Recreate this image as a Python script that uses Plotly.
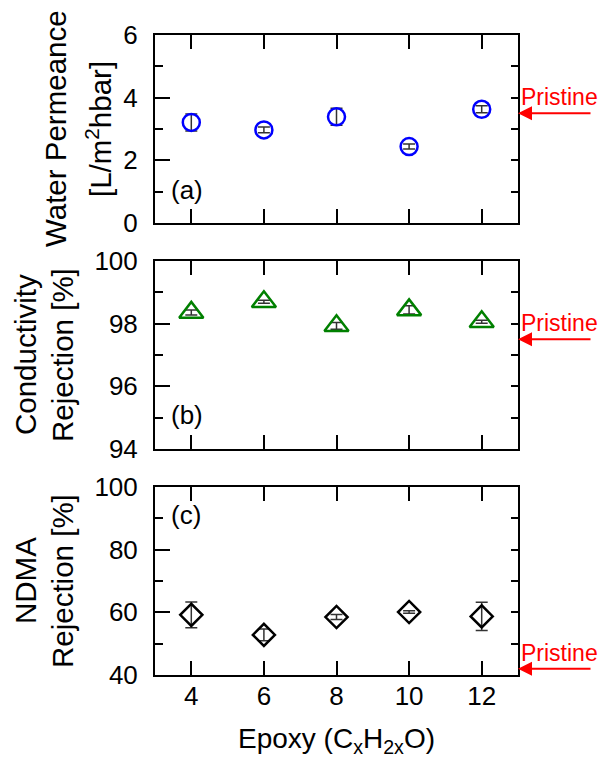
import plotly.graph_objects as go

# ---------------- data ----------------
epoxy_x = [4, 6, 8, 10, 12]
x_tick_labels = ["4", "6", "8", "10", "12"]

permeance = [3.21, 2.97, 3.39, 2.44, 3.63]
permeance_err = [0.27, 0.09, 0.27, 0.08, 0.11]

conductivity = [98.36, 98.70, 97.93, 98.44, 98.06]
conductivity_err = [0.08, 0.05, 0.11, 0.13, 0.05]

ndma = [59.2, 52.8, 58.5, 60.1, 58.7]
ndma_err = [4.1, 1.9, 0.8, 0.4, 4.5]

pristine_values = [3.5, 97.5, 42.0]
panel_letters = ["(a)", "(b)", "(c)"]

# ---------------- styling ----------------
FONT = "Liberation Sans, Arial, sans-serif"
TICK_SIZE = 26
TITLE_SIZE = 29.5
ERR_COLOR = "#333333"

fig = go.Figure()

def err(vals):
    return dict(type="data", array=vals, visible=True, color=ERR_COLOR,
                thickness=1.5, width=6)

fig.add_trace(go.Scatter(x=epoxy_x, y=permeance, mode="markers",
                         xaxis="x3", yaxis="y3", error_y=err(permeance_err),
                         marker=dict(symbol="circle-open", size=17, color="#0000FF",
                                     line=dict(width=2.5, color="#0000FF")),
                         showlegend=False))
fig.add_trace(go.Scatter(x=epoxy_x, y=conductivity, mode="markers",
                         xaxis="x2", yaxis="y2", error_y=err(conductivity_err),
                         marker=dict(symbol="triangle-up-open", size=21, color="#008000",
                                     line=dict(width=2.5, color="#008000")),
                         showlegend=False))
fig.add_trace(go.Scatter(x=epoxy_x, y=ndma, mode="markers",
                         xaxis="x", yaxis="y", error_y=err(ndma_err),
                         marker=dict(symbol="diamond-open", size=17, color="#000000",
                                     line=dict(width=2.5, color="#000000")),
                         showlegend=False))
# dummy traces for right-side tick overlays
for ya, xa in (("y4", "x"), ("y5", "x2"), ("y6", "x3")):
    fig.add_trace(go.Scatter(x=[None], y=[None], xaxis=xa, yaxis=ya,
                             showlegend=False, hoverinfo="skip"))

dom_c = [0.0, 0.29375]
dom_b = [0.353125, 0.646875]
dom_a = [0.70625, 1.0]

def xaxis(anchor, labels):
    return dict(anchor=anchor, domain=[0, 1], range=[3, 13],
                tickmode="array", tickvals=epoxy_x, ticktext=x_tick_labels,
                showticklabels=labels, ticks="inside", ticklen=14, tickwidth=2,
                tickcolor="black", showline=True, linewidth=2, linecolor="black",
                mirror="ticks", showgrid=False, zeroline=False, automargin=False,
                tickfont=dict(family=FONT, size=TICK_SIZE, color="black"),
                ticklabelposition="outside", ticklabelstandoff=-3)

def yaxis(dom, rng, dtick, minor):
    return dict(domain=dom, range=rng, dtick=dtick, tick0=rng[0],
                ticks="inside", ticklen=15, tickwidth=2, tickcolor="black",
                minor=dict(ticks="inside", ticklen=8, tickwidth=2, tickcolor="black",
                           dtick=minor, tick0=rng[0], showgrid=False),
                showline=True, linewidth=2, linecolor="black", mirror=True,
                showgrid=False, zeroline=False, automargin=False,
                tickfont=dict(family=FONT, size=TICK_SIZE, color="black"),
                ticklabelposition="outside", ticklabelstandoff=10)

def yright(over, anchor, dom, rng, minor):
    return dict(overlaying=over, anchor=anchor, side="right", domain=dom,
                range=rng, dtick=minor, tick0=rng[0], ticks="inside", ticklen=7,
                tickwidth=2, tickcolor="black", showticklabels=False,
                showline=False, showgrid=False, zeroline=False, automargin=False)

fig.update_layout(
    width=603, height=758,
    margin=dict(l=155, r=85, t=35, b=83),
    paper_bgcolor="white", plot_bgcolor="white",
    font=dict(family=FONT, color="black"),
    xaxis=xaxis("y", True),
    xaxis2=xaxis("y2", False),
    xaxis3=xaxis("y3", False),
    yaxis=yaxis(dom_c, [40, 100], 20, 10),
    yaxis2=yaxis(dom_b, [94, 100], 2, 1),
    yaxis3=yaxis(dom_a, [0, 6], 2, 1),
    yaxis4=yright("y", "x", dom_c, [40, 100], 10),
    yaxis5=yright("y2", "x2", dom_b, [94, 100], 1),
    yaxis6=yright("y3", "x3", dom_a, [0, 6], 1),
)
fig.layout.xaxis.title = dict(text="Epoxy (C<sub>x</sub>H<sub>2x</sub>O)",
                              font=dict(family=FONT, size=28), standoff=18)

ann = []
# y-axis titles (two lines each)
titles = [
    ("Water Permeance", "[L/m<sup>2</sup>hbar]", 55, 98, "y3 domain"),
    ("Conductivity", "Rejection [%]", 25, 62, "y2 domain"),
    ("NDMA", "Rejection [%]", 25, 62, "y domain"),
]
for l1, l2, px1, px2, yref in titles:
    for txt, px in ((l1, px1), (l2, px2)):
        ann.append(dict(text=txt, textangle=-90, xref="paper", yref=yref,
                        x=(px - 155) / 363, y=0.5, xanchor="center", yanchor="middle",
                        showarrow=False, font=dict(family=FONT, size=TITLE_SIZE)))

# panel letters
letter_pos = [("x3", "y3", 1.05), ("x2", "y2", 95.08), ("x", "y", 91.1)]
for letter, (xr, yr, yv) in zip(panel_letters, letter_pos):
    ann.append(dict(text=letter, xref=xr, yref=yr, x=3.38, y=yv,
                    xanchor="left", yanchor="middle", showarrow=False,
                    font=dict(family=FONT, size=TICK_SIZE)))

# pristine arrows + text
for val, yr in zip(pristine_values, ["y3", "y2", "y"]):
    ann.append(dict(text="", xref="paper", yref=yr, x=1.0, y=val,
                    ax=74, ay=0, showarrow=True, arrowhead=2, arrowsize=1.4,
                    arrowwidth=2, arrowcolor="#FF0000", standoff=0))
    ann.append(dict(text="Pristine", xref="paper", yref=yr, x=1.0, y=val,
                    xanchor="left", yanchor="middle", xshift=1, yshift=16,
                    showarrow=False,
                    font=dict(family=FONT, size=23, color="#FF0000")))

fig.update_layout(annotations=ann)
fig.write_html("out.html", config={"displayModeBar": False},
               post_script="document.body.style.margin='0';document.body.style.overflow='hidden';")
